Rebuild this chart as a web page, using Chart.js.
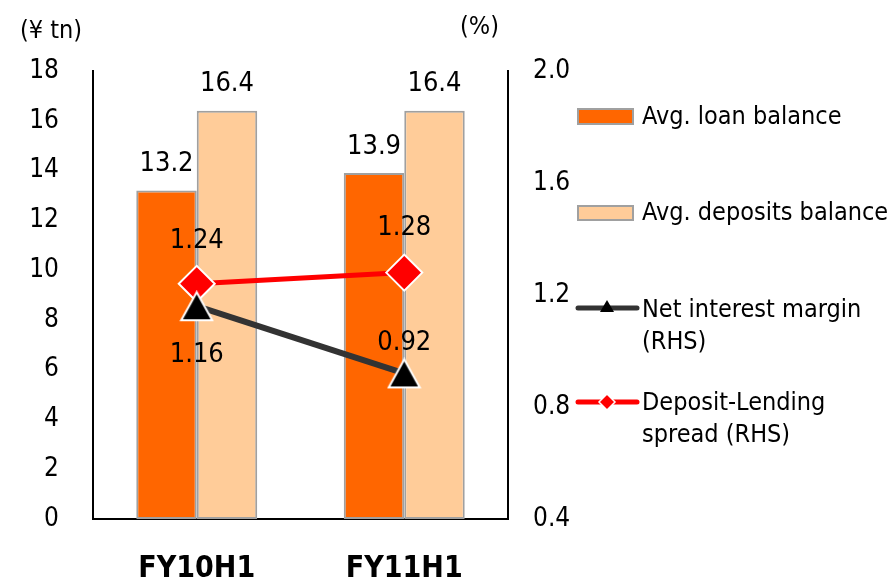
<!DOCTYPE html>
<html>
<head>
<meta charset="utf-8">
<script src="https://cdn.jsdelivr.net/npm/chart.js@4/dist/chart.umd.min.js"></script>
<style>
  html, body { margin: 0; padding: 0; background: #fff; }
  #wrap { width: 892px; height: 577px; position: relative; }
</style>
</head>
<body>
<div id="wrap"><canvas id="grafico"></canvas></div>
<script>
// datos
const categories = ['FY10H1', 'FY11H1'];
const loanBalance = [13.2, 13.9];
const depositsBalance = [16.4, 16.4];
const netInterestMargin = [1.16, 0.92];
const depositLendingSpread = [1.24, 1.28];
const leftAxis = { min: 0, max: 18, step: 2 };
const rightAxis = { min: 0.4, max: 2.0, step: 0.4 };
const leftUnit = '(¥ tn)';
const rightUnit = '(%)';

const FONT = '"DejaVu Sans Condensed", "DejaVu Sans", sans-serif';
const C_LOAN = '#FF6600';
const C_DEPO = '#FFCC99';
const C_BAR_EDGE = '#A0A0A0';
const C_NIM = '#333333';
const C_SPREAD = '#FF0000';

function makeTriangle(w, h, fill, stroke, lw) {
    const c = document.createElement('canvas');
    c.width = w + lw * 2;
    c.height = h + lw * 2;
    const g = c.getContext('2d');
    g.beginPath();
    g.moveTo(c.width / 2, lw);
    g.lineTo(c.width - lw, c.height - lw);
    g.lineTo(lw, c.height - lw);
    g.closePath();
    g.fillStyle = fill;
    g.fill();
    g.lineWidth = lw;
    g.strokeStyle = stroke;
    g.stroke();
    return c;
}
const triangleMarker = makeTriangle(31, 28, '#000', '#fff', 2);

// etiquetas de valores
const valueLabels = {
    id: 'valueLabels',
    afterDatasetsDraw(chart) {
        const ctx = chart.ctx;
        ctx.save();
        ctx.fillStyle = '#000';
        ctx.font = '27px ' + FONT;
        ctx.textAlign = 'center';
        ctx.textBaseline = 'alphabetic';
        const offsets = { 0: [-19, -19], 1: [-20, -20], 2: [56, -23], 3: [-36, -38] };
        chart.data.datasets.forEach((ds, di) => {
            const meta = chart.getDatasetMeta(di);
            const dec = ds.type === 'line' ? 2 : 1;
            meta.data.forEach((el, i) => {
                ctx.fillText(ds.data[i].toFixed(dec), el.x, el.y + offsets[di][i]);
            });
        });
        ctx.restore();
    },
    afterDraw(chart) {
        const ctx = chart.ctx;
        ctx.save();
        ctx.fillStyle = '#000';
        ctx.font = '25px ' + FONT;
        ctx.textBaseline = 'middle';
        ctx.textAlign = 'left';
        ctx.fillText(leftUnit, 20, 31);
        ctx.fillText(rightUnit, 460, 27);

        // leyenda
        const ds = chart.data.datasets;
        const lx = 578, tx = 642;
        ctx.lineWidth = 2;
        ctx.strokeStyle = C_BAR_EDGE;
        ctx.fillStyle = ds[0].backgroundColor;
        ctx.fillRect(lx, 109, 55, 15);
        ctx.strokeRect(lx, 109, 55, 15);
        ctx.fillStyle = ds[1].backgroundColor;
        ctx.fillRect(lx, 206, 55, 14);
        ctx.strokeRect(lx, 206, 55, 14);

        ctx.lineCap = 'round';
        ctx.lineWidth = 5;
        ctx.strokeStyle = ds[2].borderColor;
        ctx.beginPath(); ctx.moveTo(lx, 308); ctx.lineTo(637, 308); ctx.stroke();
        ctx.fillStyle = '#000';
        ctx.beginPath(); ctx.moveTo(607, 300); ctx.lineTo(614, 312); ctx.lineTo(600, 312); ctx.closePath(); ctx.fill();

        ctx.strokeStyle = ds[3].borderColor;
        ctx.beginPath(); ctx.moveTo(lx, 402); ctx.lineTo(637, 402); ctx.stroke();
        ctx.fillStyle = ds[3].borderColor;
        ctx.strokeStyle = '#fff';
        ctx.lineWidth = 1.5;
        ctx.beginPath(); ctx.moveTo(607, 394); ctx.lineTo(615, 402); ctx.lineTo(607, 410); ctx.lineTo(599, 402); ctx.closePath(); ctx.fill(); ctx.stroke();

        ctx.fillStyle = '#000';
        ctx.fillText('Avg. loan balance', tx, 117);
        ctx.fillText('Avg. deposits balance', tx, 213);
        ctx.fillText('Net interest margin', tx, 310);
        ctx.fillText('(RHS)', tx, 342);
        ctx.fillText('Deposit-Lending', tx, 403);
        ctx.fillText('spread (RHS)', tx, 435);
        ctx.restore();
    }
};

const ctx = document.getElementById('grafico');
new Chart(ctx, {
    type: 'bar',
    data: {
        labels: categories,
        datasets: [
            { type: 'bar', label: 'Avg. loan balance', data: loanBalance, yAxisID: 'y',
              backgroundColor: C_LOAN, borderColor: C_BAR_EDGE, borderWidth: 2, borderSkipped: false, order: 2 },
            { type: 'bar', label: 'Avg. deposits balance', data: depositsBalance, yAxisID: 'y',
              backgroundColor: C_DEPO, borderColor: C_BAR_EDGE, borderWidth: 2, borderSkipped: false, order: 3 },
            { type: 'line', label: 'Net interest margin (RHS)', data: netInterestMargin, yAxisID: 'y1',
              borderColor: C_NIM, borderWidth: 6, pointStyle: triangleMarker, tension: 0, fill: false, order: 0 },
            { type: 'line', label: 'Deposit-Lending spread (RHS)', data: depositLendingSpread, yAxisID: 'y1',
              borderColor: C_SPREAD, borderWidth: 5, pointStyle: 'rectRot', pointRadius: 18,
              pointBackgroundColor: C_SPREAD, pointBorderColor: '#fff', pointBorderWidth: 2,
              tension: 0, fill: false, order: 1 }
        ]
    },
    options: {
        responsive: true, maintainAspectRatio: false, animation: false,
        layout: { padding: { top: 71, left: 0, right: 0, bottom: 0 } },
        plugins: { legend: { display: false }, tooltip: { enabled: false } },
        datasets: { bar: { categoryPercentage: 0.583, barPercentage: 1.0 } },
        scales: {
            x: {
                offset: true,
                grid: { display: false },
                border: { display: true, color: '#000', width: 2 },
                ticks: { color: '#000', font: { family: FONT, size: 30, weight: 'bold' }, padding: 24 },
                afterFit: (s) => { s.height = 58; }
            },
            y: {
                position: 'left', min: leftAxis.min, max: leftAxis.max,
                grid: { display: false },
                border: { display: true, color: '#000', width: 2 },
                ticks: { stepSize: leftAxis.step, color: '#000', font: { family: FONT, size: 26 }, padding: 26 },
                afterFit: (s) => { s.width = 93; }
            },
            y1: {
                position: 'right', min: rightAxis.min, max: rightAxis.max,
                grid: { display: false },
                border: { display: true, color: '#000', width: 2 },
                ticks: { stepSize: rightAxis.step, color: '#000', font: { family: FONT, size: 26 }, padding: 17,
                         callback: (v) => Number(v).toFixed(1) },
                afterFit: (s) => { s.width = 384; }
            }
        }
    },
    plugins: [valueLabels]
});
</script>
</body>
</html>
